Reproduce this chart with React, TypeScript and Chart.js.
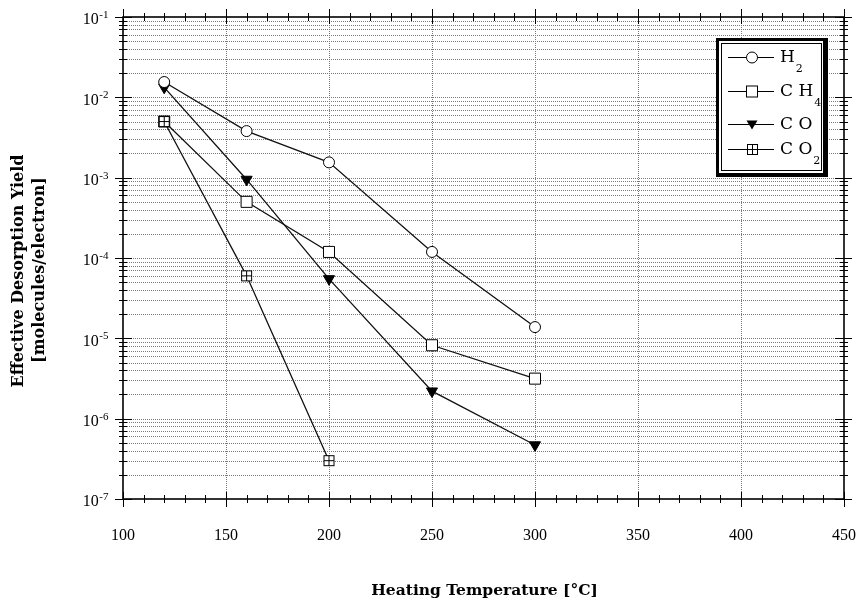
import React, { useEffect, useRef } from "react";
import { Chart, registerables } from "chart.js";

Chart.register(...registerables);

// ---- data ----
const temperatures = [120, 160, 200, 250, 300];
const h2Yield = [1.55e-2, 3.8e-3, 1.55e-3, 1.19e-4, 1.38e-5];
const ch4Yield = [5.0e-3, 5.0e-4, 1.19e-4, 8.2e-6, 3.15e-6];
const coYield = [1.33e-2, 9.5e-4, 5.5e-5, 2.2e-6, 4.7e-7];
const co2Temperatures = [120, 160, 200];
const co2Yield = [5.0e-3, 6.0e-5, 3.0e-7];

const xTickValues = [100, 150, 200, 250, 300, 350, 400, 450];
const yDecades = [-7, -6, -5, -4, -3, -2, -1];
const xMin = 100;
const xMax = 450;
const yMin = 1e-7;
const yMax = 1e-1;

const xTitle = "Heating Temperature [°C]";
const yTitle1 = "Effective Desorption Yield";
const yTitle2 = "[molecules/electron]";

const SERIF = '"DejaVu Serif", "Liberation Serif", serif';
const TICKFONT = '"Liberation Serif", "DejaVu Serif", serif';

function makeCrossSquare(): HTMLCanvasElement {
  const c = document.createElement("canvas");
  c.width = 13;
  c.height = 13;
  const g = c.getContext("2d")!;
  g.fillStyle = "#fff";
  g.fillRect(1, 1, 11, 11);
  g.strokeStyle = "#000";
  g.lineWidth = 1;
  g.strokeRect(1.5, 1.5, 10, 10);
  g.beginPath();
  g.moveTo(6.5, 1.5);
  g.lineTo(6.5, 11.5);
  g.moveTo(1.5, 6.5);
  g.lineTo(11.5, 6.5);
  g.stroke();
  return c;
}

function pts(xs: number[], ys: number[]) {
  return xs.map((x, i) => ({ x, y: ys[i] }));
}

export default function App() {
  const ref = useRef<HTMLCanvasElement | null>(null);

  useEffect(() => {
    if (!ref.current) return;
    const crossSquare = makeCrossSquare();

    const yMinorValues: number[] = [];
    for (const e of yDecades) {
      for (let m = 1; m <= 9; m++) {
        const v = m * Math.pow(10, e);
        if (v > yMin * 1.0001 && v < yMax * 0.9999) yMinorValues.push(v);
      }
    }
    const xMinorValues: number[] = [];
    for (let v = xMin; v <= xMax; v += 10) xMinorValues.push(v);

    const gridPlugin = {
      id: "gridPlugin",
      beforeDatasetsDraw(chart: any) {
        const { ctx, chartArea: a, scales } = chart;
        const x = scales.x;
        const y = scales.y;
        ctx.save();
        ctx.strokeStyle = "#7a7a7a";
        ctx.lineWidth = 1;
        ctx.setLineDash([1, 1]);
        for (const v of yMinorValues) {
          const py = Math.round(y.getPixelForValue(v)) + 0.5;
          ctx.beginPath();
          ctx.moveTo(a.left, py);
          ctx.lineTo(a.right, py);
          ctx.stroke();
        }
        for (const v of xTickValues) {
          if (v <= xMin || v >= xMax) continue;
          const px = Math.round(x.getPixelForValue(v)) + 0.5;
          ctx.beginPath();
          ctx.moveTo(px, a.top);
          ctx.lineTo(px, a.bottom);
          ctx.stroke();
        }
        ctx.restore();
      },
      afterDatasetsDraw(chart: any) {
        const { ctx, chartArea: a, scales } = chart;
        const x = scales.x;
        const y = scales.y;
        ctx.save();
        ctx.setLineDash([]);
        ctx.strokeStyle = "#000";
        // frame
        ctx.lineWidth = 1.6;
        ctx.strokeRect(a.left, a.top, a.right - a.left, a.bottom - a.top);
        // ticks
        ctx.lineWidth = 1;
        const majorY = yDecades.map((e) => Math.pow(10, e));
        const isMajorY = (v: number) =>
          majorY.some((m) => Math.abs(Math.log10(v) - Math.log10(m)) < 1e-6);
        const allY = [yMin, ...yMinorValues, yMax];
        for (const v of allY) {
          const py = Math.round(y.getPixelForValue(v)) + 0.5;
          const major = isMajorY(v);
          const out = major ? 8 : 4;
          const inn = major ? 9 : 4;
          ctx.beginPath();
          ctx.moveTo(a.left - out, py);
          ctx.lineTo(a.left + inn, py);
          ctx.moveTo(a.right - inn, py);
          ctx.lineTo(a.right + out, py);
          ctx.stroke();
        }
        for (const v of xMinorValues) {
          const px = Math.round(x.getPixelForValue(v)) + 0.5;
          const major = xTickValues.includes(v);
          const out = major ? 8 : 4;
          const inn = major ? 7 : 4;
          ctx.beginPath();
          ctx.moveTo(px, a.bottom + out);
          ctx.lineTo(px, a.bottom - inn);
          ctx.moveTo(px, a.top - out);
          ctx.lineTo(px, a.top + inn);
          ctx.stroke();
        }
        // x tick labels
        ctx.fillStyle = "#000";
        ctx.font = `16px ${TICKFONT}`;
        ctx.textAlign = "center";
        ctx.textBaseline = "middle";
        for (const v of xTickValues) {
          ctx.fillText(String(v), x.getPixelForValue(v), 536);
        }
        // y tick labels with superscripts
        for (const e of yDecades) {
          const py = y.getPixelForValue(Math.pow(10, e));
          const sup = String(e);
          ctx.font = `11px ${TICKFONT}`;
          const supW = ctx.measureText(sup).width;
          const baseX = 108 - supW;
          ctx.textAlign = "left";
          ctx.fillText(sup, baseX + 0.5, py - 2);
          ctx.font = `16px ${TICKFONT}`;
          ctx.textAlign = "right";
          ctx.fillText("10", baseX, py + 3);
        }
        // axis titles
        ctx.font = `bold 15.5px ${SERIF}`;
        ctx.textAlign = "center";
        ctx.fillText(xTitle, (a.left + a.right) / 2 + 1, 591);
        ctx.font = `bold 16px ${SERIF}`;
        ctx.save();
        ctx.translate(19, 271);
        ctx.rotate(-Math.PI / 2);
        ctx.fillText(yTitle1, 0, 0);
        ctx.restore();
        ctx.save();
        ctx.translate(40, 270);
        ctx.rotate(-Math.PI / 2);
        ctx.fillText(yTitle2, 0, 0);
        ctx.restore();
        ctx.restore();
      },
      afterDraw(chart: any) {
        const { ctx } = chart;
        ctx.save();
        // legend box
        const L = 716, T = 38, R = 828, B = 177;
        ctx.fillStyle = "#fff";
        ctx.fillRect(L, T, R - L, B - T);
        ctx.strokeStyle = "#000";
        ctx.lineWidth = 3;
        ctx.strokeRect(L + 1.5, T + 1.5, R - L - 3, B - T - 3);
        ctx.lineWidth = 2;
        ctx.beginPath();
        ctx.moveTo(R - 4, T + 3);
        ctx.lineTo(R - 4, B - 3);
        ctx.lineTo(L + 3, B - 3);
        ctx.stroke();
        ctx.lineWidth = 1;
        ctx.strokeRect(L + 5.5, T + 5.5, R - L - 12, B - T - 12);

        const rows = [
          { y: 57, main: "H", sub: "2", kind: "circle" },
          { y: 91, main: "C H", sub: "4", kind: "rect" },
          { y: 124, main: "C O", sub: "", kind: "tri" },
          { y: 149, main: "C O", sub: "2", kind: "cross" },
        ];
        for (const r of rows) {
          ctx.strokeStyle = "#000";
          ctx.lineWidth = 1.2;
          ctx.beginPath();
          ctx.moveTo(728, r.y + 0.5);
          ctx.lineTo(774, r.y + 0.5);
          ctx.stroke();
          const cx = 752, cy = r.y + 0.5;
          ctx.lineWidth = 1;
          if (r.kind === "circle") {
            ctx.fillStyle = "#fff";
            ctx.beginPath();
            ctx.arc(cx, cy, 5.5, 0, Math.PI * 2);
            ctx.fill();
            ctx.stroke();
          } else if (r.kind === "rect") {
            ctx.fillStyle = "#fff";
            ctx.fillRect(cx - 5.5, cy - 5.5, 11, 11);
            ctx.strokeRect(cx - 5.5, cy - 5.5, 11, 11);
          } else if (r.kind === "tri") {
            ctx.fillStyle = "#000";
            ctx.beginPath();
            ctx.moveTo(cx - 5.5, cy - 4);
            ctx.lineTo(cx + 5.5, cy - 4);
            ctx.lineTo(cx, cy + 5);
            ctx.closePath();
            ctx.fill();
          } else {
            ctx.drawImage(crossSquare, Math.round(cx - 6.5), Math.round(cy - 6.5));
          }
          ctx.fillStyle = "#000";
          ctx.font = `17px ${SERIF}`;
          ctx.textAlign = "left";
          ctx.textBaseline = "middle";
          ctx.fillText(r.main, 780, r.y + 1);
          const w = ctx.measureText(r.main).width;
          if (r.sub) {
            ctx.font = `11px ${SERIF}`;
            ctx.fillText(r.sub, 780 + w + 1, r.y + 12);
          }
        }
        ctx.restore();
      },
    };

    const common = {
      borderColor: "#111",
      borderWidth: 1.3,
      pointBorderColor: "#000",
      pointBorderWidth: 1,
      showLine: true,
      tension: 0,
      fill: false,
    };

    const chart = new Chart(ref.current, {
      type: "line",
      data: {
        datasets: [
          {
            ...common,
            label: "H2",
            data: pts(temperatures, h2Yield),
            pointStyle: "circle",
            pointRadius: 5.5,
            pointBackgroundColor: "#fff",
            order: 0,
          },
          {
            ...common,
            label: "CH4",
            data: pts(temperatures, ch4Yield),
            pointStyle: "rect",
            pointRadius: 7.8,
            pointBackgroundColor: "#fff",
            order: 3,
          },
          {
            ...common,
            label: "CO",
            data: pts(temperatures, coYield),
            pointStyle: "triangle",
            pointRotation: 180,
            pointRadius: 6.4,
            pointBackgroundColor: "#000",
            order: 2,
          },
          {
            ...common,
            label: "CO2",
            data: pts(co2Temperatures, co2Yield),
            pointStyle: crossSquare,
            pointRadius: 6.5,
            pointBackgroundColor: "#fff",
            order: 1,
          },
        ] as any,
      },
      options: {
        animation: false,
        responsive: false,
        maintainAspectRatio: false,
        layout: { padding: { left: 123, right: 16, top: 17, bottom: 106 } },
        plugins: {
          legend: { display: false },
          tooltip: { enabled: false },
          title: { display: false },
        },
        scales: {
          x: { type: "linear", min: xMin, max: xMax, display: false },
          y: { type: "logarithmic", min: yMin, max: yMax, display: false },
        },
      } as any,
      plugins: [gridPlugin],
    });

    return () => chart.destroy();
  }, []);

  return (
    <div style={{ position: "fixed", left: 0, top: 0, width: 860, height: 605, background: "#fff" }}>
      <canvas ref={ref} width={860} height={605} style={{ display: "block" }} />
    </div>
  );
}
